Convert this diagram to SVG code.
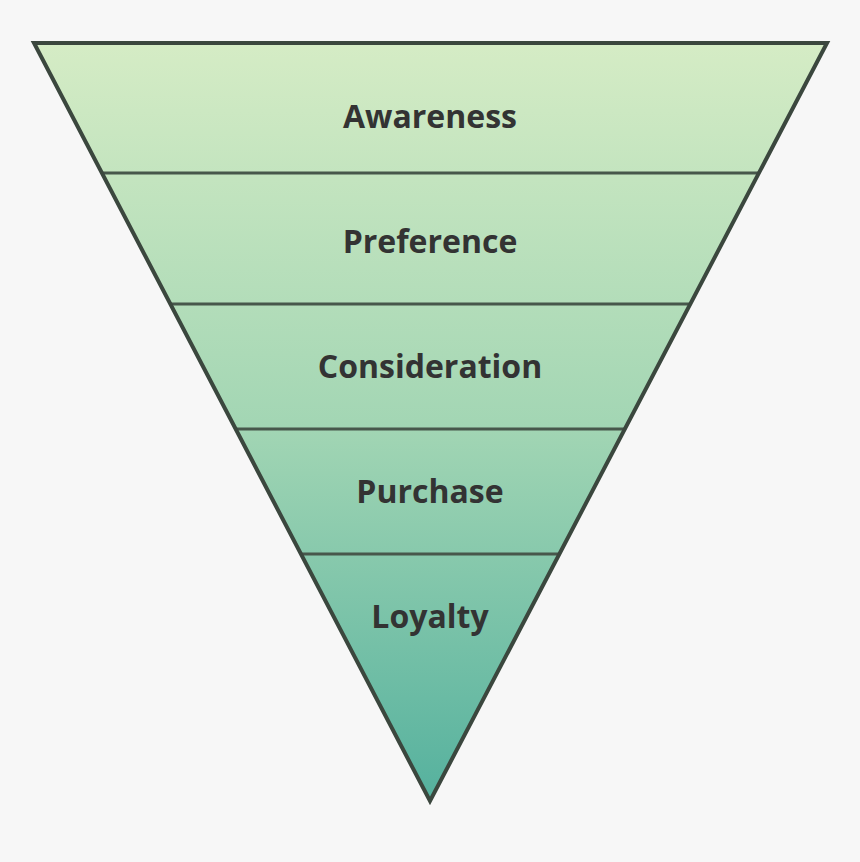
<svg xmlns="http://www.w3.org/2000/svg" width="860" height="862" viewBox="0 0 860 862">
  <style>
    .band { fill: url(#g); stroke: none; }
    .label { font-family: "Open Sans", Lato, "Liberation Sans", sans-serif; font-weight: 700; font-size: 32px; fill: #333333; text-anchor: middle; dominant-baseline: central; font-variant-ligatures: none; }
    .divider { stroke: #47574b; stroke-width: 3; fill: none; }
    .outline { stroke: #3b473e; stroke-width: 4; fill: none; stroke-linejoin: miter; }
  </style>
  <defs>
    <linearGradient id="g" gradientUnits="userSpaceOnUse" x1="0" y1="43" x2="0" y2="801">
      <stop offset="0" stop-color="#d5ecc5"/>
      <stop offset="0.5" stop-color="#a3d6b4"/>
      <stop offset="1" stop-color="#55b19e"/>
    </linearGradient>
  </defs>
  <rect width="860" height="862" fill="#f7f7f7"/>
  <g id="awareness">
    <polygon class="band" points="34,43 827,43 758.9,173 101.9,173"/>
    <text class="label" x="430" y="115">Awareness</text>
  </g>
  <g id="preference">
    <polygon class="band" points="101.9,173 758.9,173 690.3,304 170.3,304"/>
    <text class="label" x="430" y="240">Preference</text>
  </g>
  <g id="consideration">
    <polygon class="band" points="170.3,304 690.3,304 624.8,429 235.6,429"/>
    <text class="label" x="430" y="365">Consideration</text>
  </g>
  <g id="purchase">
    <polygon class="band" points="235.6,429 624.8,429 559.4,554 301,554"/>
    <text class="label" x="430" y="490">Purchase</text>
  </g>
  <g id="loyalty">
    <polygon class="band" points="301,554 559.4,554 430,801"/>
    <text class="label" x="430" y="615">Loyalty</text>
  </g>
  <g id="connectors">
    <line class="divider" x1="101.9" y1="173" x2="758.9" y2="173"/>
    <line class="divider" x1="170.3" y1="304" x2="690.3" y2="304"/>
    <line class="divider" x1="235.6" y1="429" x2="624.8" y2="429"/>
    <line class="divider" x1="301" y1="554" x2="559.4" y2="554"/>
    <polygon class="outline" points="34,43 827,43 430,801"/>
  </g>
</svg>
